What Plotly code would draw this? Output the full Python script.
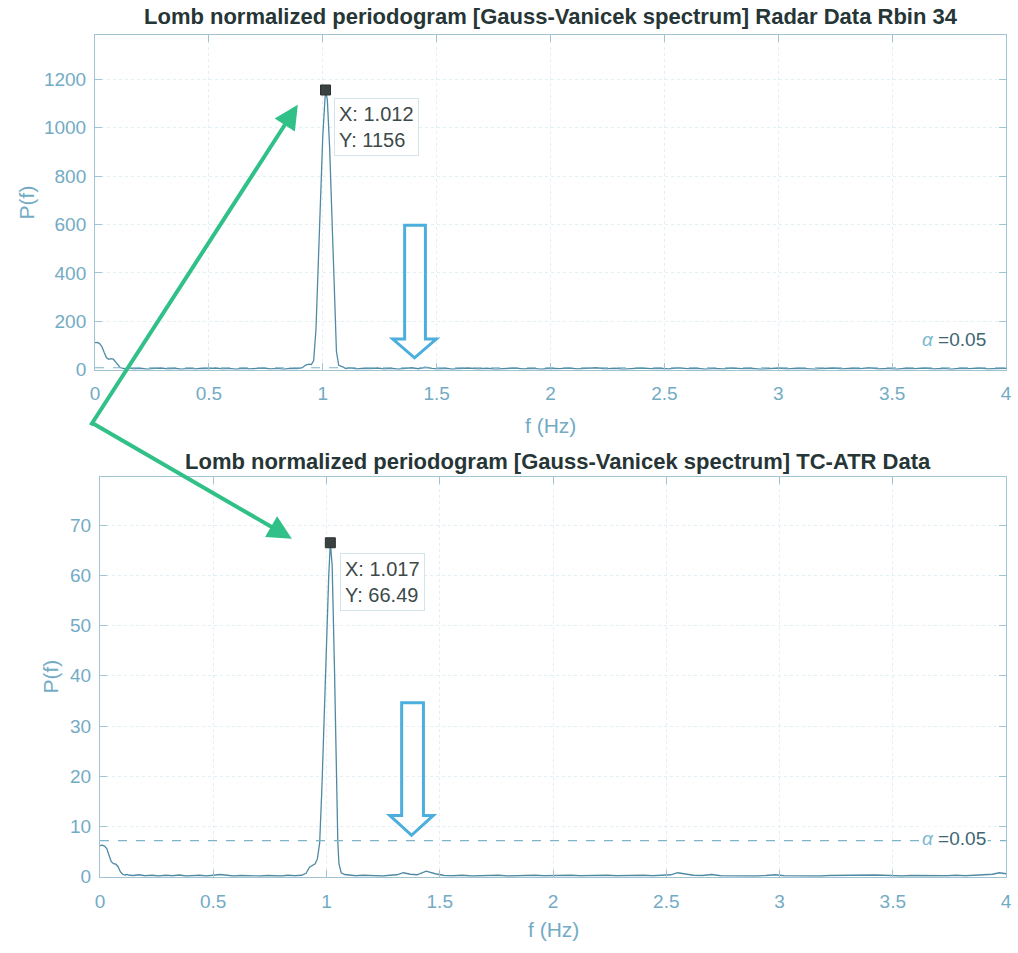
import plotly.graph_objects as go

W, H = 1018, 953

# ---------------- data ----------------
x_ticks = [0, 0.5, 1, 1.5, 2, 2.5, 3, 3.5, 4]
x_tick_text = ["0", "0.5", "1", "1.5", "2", "2.5", "3", "3.5", "4"]
y_ticks_radar = [0, 200, 400, 600, 800, 1000, 1200]
y_ticks_atr = [0, 10, 20, 30, 40, 50, 60, 70]

# Lomb periodogram, Radar Data Rbin 34
f_radar = [0.000, 0.010, 0.020, 0.030, 0.040, 0.050, 0.060, 0.070, 0.080, 0.090,
           0.100, 0.110, 0.120, 0.130, 0.150, 0.170, 0.200, 0.230, 0.260, 0.290,
           0.320, 0.350, 0.380, 0.410, 0.440, 0.470, 0.500, 0.530, 0.560, 0.590,
           0.620, 0.650, 0.680, 0.710, 0.740, 0.770, 0.800, 0.830, 0.860, 0.890,
           0.910, 0.925, 0.940, 0.950, 0.960, 0.970, 0.980, 0.990, 1.000, 1.012,
           1.020, 1.030, 1.040, 1.050, 1.060, 1.070, 1.080, 1.090, 1.100, 1.120,
           1.150, 1.180,
           1.21, 1.24, 1.27, 1.30, 1.33, 1.36, 1.39, 1.42, 1.45, 1.48,
           1.51, 1.54, 1.57, 1.60, 1.64, 1.68, 1.72, 1.76, 1.80, 1.84,
           1.88, 1.92, 1.96, 2.00, 2.04, 2.08, 2.12, 2.16, 2.20, 2.24,
           2.28, 2.32, 2.36, 2.40, 2.44, 2.48, 2.52, 2.56, 2.60, 2.64,
           2.68, 2.72, 2.76, 2.80, 2.84, 2.88, 2.92, 2.96, 3.00, 3.04,
           3.08, 3.12, 3.16, 3.20, 3.24, 3.28, 3.32, 3.36, 3.40, 3.44,
           3.48, 3.52, 3.56, 3.60, 3.64, 3.68, 3.72, 3.76, 3.80, 3.84,
           3.88, 3.92, 3.96, 4.00]
p_radar = [112, 113, 108, 96, 72, 50, 43, 46, 44, 32,
           18, 9, 6, 4, 7, 3, 6, 2, 5, 7,
           3, 6, 2, 5, 3, 6, 4, 7, 3, 5,
           2, 6, 3, 5, 7, 3, 5, 2, 6, 4,
           8, 19, 23, 21, 38, 165, 420, 700, 965, 1156,
           1115, 920, 610, 290, 75, 18, 16, 11, 5, 8,
           3, 6,
           4, 7, 3, 6, 2, 5, 8, 4, 10, 5,
           3, 6, 2, 5, 7, 3, 6, 2, 4, 7,
           3, 5, 2, 6, 4, 7, 3, 5, 8, 3,
           6, 2, 5, 7, 4, 6, 3, 8, 4, 6,
           2, 5, 3, 7, 4, 6, 2, 5, 7, 3,
           6, 4, 2, 5, 7, 3, 6, 4, 8, 3,
           5, 2, 6, 4, 7, 3, 5, 2, 6, 4,
           7, 3, 5, 6]

# Lomb periodogram, TC-ATR Data
f_atr = [0.000, 0.010, 0.020, 0.030, 0.040, 0.050, 0.060, 0.070, 0.080, 0.090,
         0.100, 0.110, 0.120, 0.130, 0.150, 0.170, 0.200, 0.230, 0.260, 0.290,
         0.320, 0.350, 0.380, 0.410, 0.440, 0.470, 0.500, 0.530, 0.560, 0.590,
         0.620, 0.650, 0.680, 0.710, 0.740, 0.770, 0.800, 0.830, 0.860, 0.890,
         0.910, 0.925, 0.940, 0.950, 0.960, 0.970, 0.980, 0.990, 1.000, 1.010,
         1.017, 1.025, 1.035, 1.045, 1.050, 1.055, 1.065, 1.080, 1.100, 1.130,
         1.160, 1.190, 1.220, 1.250, 1.280, 1.310, 1.340, 1.370, 1.400, 1.440,
         1.480, 1.520, 1.560, 1.600, 1.640, 1.680, 1.720, 1.760, 1.800, 1.840,
         1.880, 1.920, 1.960, 2.000, 2.040, 2.080, 2.120, 2.160, 2.200, 2.240,
         2.280, 2.320, 2.360, 2.400, 2.440, 2.480, 2.520, 2.550, 2.580, 2.620,
         2.660, 2.700, 2.740, 2.780, 2.820, 2.860, 2.900, 2.940, 2.980, 3.020,
         3.060, 3.100, 3.140, 3.180, 3.220, 3.260, 3.300, 3.340, 3.380, 3.420,
         3.460, 3.500, 3.540, 3.580, 3.620, 3.660, 3.700, 3.740, 3.780, 3.820,
         3.860, 3.900, 3.940, 3.970, 4.000]
p_atr = [6.2, 6.3, 6.1, 5.6, 4.3, 3.0, 2.6, 2.5, 2.0, 1.0,
         0.5, 0.35, 0.45, 0.3, 0.25, 0.4, 0.2, 0.3, 0.15, 0.3,
         0.2, 0.35, 0.15, 0.25, 0.3, 0.15, 0.3, 0.45, 0.3, 0.15,
         0.25, 0.2, 0.3, 0.15, 0.25, 0.2, 0.15, 0.3, 0.2, 0.3,
         0.7, 1.9, 2.4, 2.6, 3.6, 6.8, 18, 33, 47, 60,
         66.49, 62, 42, 15, 7, 2.6, 0.8, 0.45, 0.3, 0.2,
         0.3, 0.2, 0.25, 0.15, 0.3, 0.4, 0.8, 0.5, 0.4, 1.1,
         0.6, 0.25, 0.2, 0.3, 0.15, 0.25, 0.2, 0.3, 0.15, 0.25,
         0.2, 0.3, 0.2, 0.25, 0.15, 0.3, 0.2, 0.25, 0.15, 0.3,
         0.2, 0.25, 0.15, 0.3, 0.2, 0.3, 0.4, 0.8, 0.6, 0.3,
         0.25, 0.45, 0.2, 0.15, 0.25, 0.2, 0.15, 0.25, 0.4, 0.2,
         0.15, 0.25, 0.2, 0.15, 0.25, 0.3, 0.2, 0.25, 0.3, 0.35,
         0.3, 0.2, 0.15, 0.25, 0.2, 0.15, 0.25, 0.2, 0.3, 0.2,
         0.3, 0.45, 0.5, 0.8, 0.6]

peak_radar = (1.012, 1156)
peak_atr = (1.017, 66.49)
alpha_radar = 8.0      # significance level (alpha = 0.05)
alpha_atr = 7.2
y_max_radar = 1385
y_max_atr = 79.5

# ---------------- style ----------------
FONT = "Liberation Sans, Arial, sans-serif"
FRAME = "#a2c3d1"
GRID = "#e2eff4"
TICK_C = "#73abc5"
TITLE_C = "#263535"
CURVE = "#4f8aa3"
DASH_C = "#7db4ca"
GREEN = "#30c088"
BLUE = "#4baedc"


def px(x):
    return x / W


def py(y):
    return 1 - y / H


fig = go.Figure()

for f, p, xa, ya in [(f_radar, p_radar, "x", "y"), (f_atr, p_atr, "x2", "y2")]:
    fig.add_trace(go.Scatter(x=f, y=p, mode="lines", xaxis=xa, yaxis=ya,
                             line=dict(color=CURVE, width=1.3), hoverinfo="skip",
                             showlegend=False))

for lvl, xa, ya in [(alpha_radar, "x", "y"), (alpha_atr, "x2", "y2")]:
    fig.add_trace(go.Scatter(x=[0, 4], y=[lvl, lvl], mode="lines", xaxis=xa, yaxis=ya,
                             line=dict(color=DASH_C, width=1.2, dash="dash"),
                             hoverinfo="skip", showlegend=False))

for (fx, fy), xa, ya in [(peak_radar, "x", "y"), (peak_atr, "x2", "y2")]:
    fig.add_trace(go.Scatter(x=[fx], y=[fy], mode="markers", xaxis=xa, yaxis=ya,
                             marker=dict(symbol="square", size=10, color="#3a4141",
                                         line=dict(color="#2a3030", width=1)),
                             hoverinfo="skip", showlegend=False))


def xaxis_cfg(domain, anchor):
    return dict(domain=domain, anchor=anchor, range=[0, 4], tickvals=x_ticks,
                ticktext=x_tick_text, ticks="inside", ticklen=7, tickcolor=FRAME,
                showline=True, linecolor=FRAME, linewidth=1, mirror="ticks",
                showgrid=True, gridcolor=GRID, griddash="dot", zeroline=False,
                tickfont=dict(family=FONT, size=19, color=TICK_C),
                ticklabelstandoff=7, fixedrange=True)


def yaxis_cfg(domain, anchor, rng, ticks):
    return dict(domain=domain, anchor=anchor, range=rng, tickvals=ticks,
                ticks="inside", ticklen=7, tickcolor=FRAME,
                showline=True, linecolor=FRAME, linewidth=1, mirror="ticks",
                showgrid=True, gridcolor=GRID, griddash="dot", zeroline=False,
                tickfont=dict(family=FONT, size=19, color=TICK_C),
                ticklabelstandoff=4, fixedrange=True)


annotations = []


def text_at(x, y, text, size, color, xanchor="center", yanchor="middle", **kw):
    annotations.append(dict(x=px(x), y=py(y), xref="paper", yref="paper", text=text,
                            showarrow=False, xanchor=xanchor, yanchor=yanchor,
                            font=dict(family=FONT, size=size, color=color), **kw))


# titles
text_at(552, 17, "<b>Lomb normalized periodogram [Gauss-Vanicek spectrum] Radar Data Rbin 34</b>",
        22, TITLE_C)
text_at(559, 467, "<b>Lomb normalized periodogram [Gauss-Vanicek spectrum] TC-ATR Data</b>",
        22, TITLE_C)

# axis labels
text_at(551, 430, "f (Hz)", 21, TICK_C)
text_at(554, 940, "f (Hz)", 21, TICK_C)
text_at(22, 205, "P(f)", 21, TICK_C, textangle=-90)
text_at(46, 685, "P(f)", 21, TICK_C, textangle=-90)

# significance labels
alpha_txt = "<span style='color:#7ab8d4'><i>α</i></span> =0.05"
text_at(994, 343, alpha_txt, 19, "#3e6673", xanchor="right", bgcolor="white")
text_at(994, 848, alpha_txt, 19, "#3e6673", xanchor="right", bgcolor="white")

# data tips
text_at(333, 99, "X: 1.012<br>Y: 1156", 20, "#3c4a4a", xanchor="left", yanchor="top",
        align="left", bgcolor="rgba(255,255,255,0.9)", bordercolor="#d3e4ea",
        borderwidth=1, borderpad=4)
text_at(339, 559, "X: 1.017<br>Y: 66.49", 20, "#3c4a4a", xanchor="left", yanchor="top",
        align="left", bgcolor="rgba(255,255,255,0.9)", bordercolor="#d3e4ea",
        borderwidth=1, borderpad=4)

# green pointer arrows sharing a common tail
tail = (88, 428)
for head in [(296, 106), (290, 545)]:
    annotations.append(dict(x=px(head[0]), y=py(head[1]), xref="paper", yref="paper",
                            ax=tail[0] - head[0], ay=tail[1] - head[1],
                            axref="pixel", ayref="pixel", text="", showarrow=True,
                            arrowhead=2, arrowsize=1.2, arrowwidth=4,
                            arrowcolor=GREEN, standoff=0))


def hollow_arrow(x0, x1, top, neck, hx0, hx1, tip):
    pts = [(x0, top), (x1, top), (x1, neck), (hx1, neck), ((hx0 + hx1) / 2, tip),
           (hx0, neck), (x0, neck)]
    path = "M " + " L ".join(f"{px(a):.5f},{py(b):.5f}" for a, b in pts) + " Z"
    return dict(type="path", xref="paper", yref="paper", path=path,
                line=dict(color=BLUE, width=3), fillcolor="rgba(255,255,255,0)")


shapes = [hollow_arrow(404, 425, 228, 343, 392, 436, 362),
          hollow_arrow(401, 423, 711, 825, 389, 433, 845)]

fig.update_layout(
    width=W, height=H,
    margin=dict(l=0, r=0, t=0, b=0),
    paper_bgcolor="white", plot_bgcolor="white",
    xaxis=xaxis_cfg([px(91), px(1012)], "y"),
    yaxis=yaxis_cfg([py(374), py(35)], "x", [0, y_max_radar], y_ticks_radar),
    xaxis2=xaxis_cfg([px(96), px(1012)], "y2"),
    yaxis2=yaxis_cfg([py(887), py(483)], "x2", [0, y_max_atr], y_ticks_atr),
    annotations=annotations,
    shapes=shapes,
    showlegend=False,
)

# page without body margin so the figure fills the window exactly
fig.write_html("out.html",
               post_script="document.body.style.margin='0';"
                           "document.body.style.overflow='hidden';")
